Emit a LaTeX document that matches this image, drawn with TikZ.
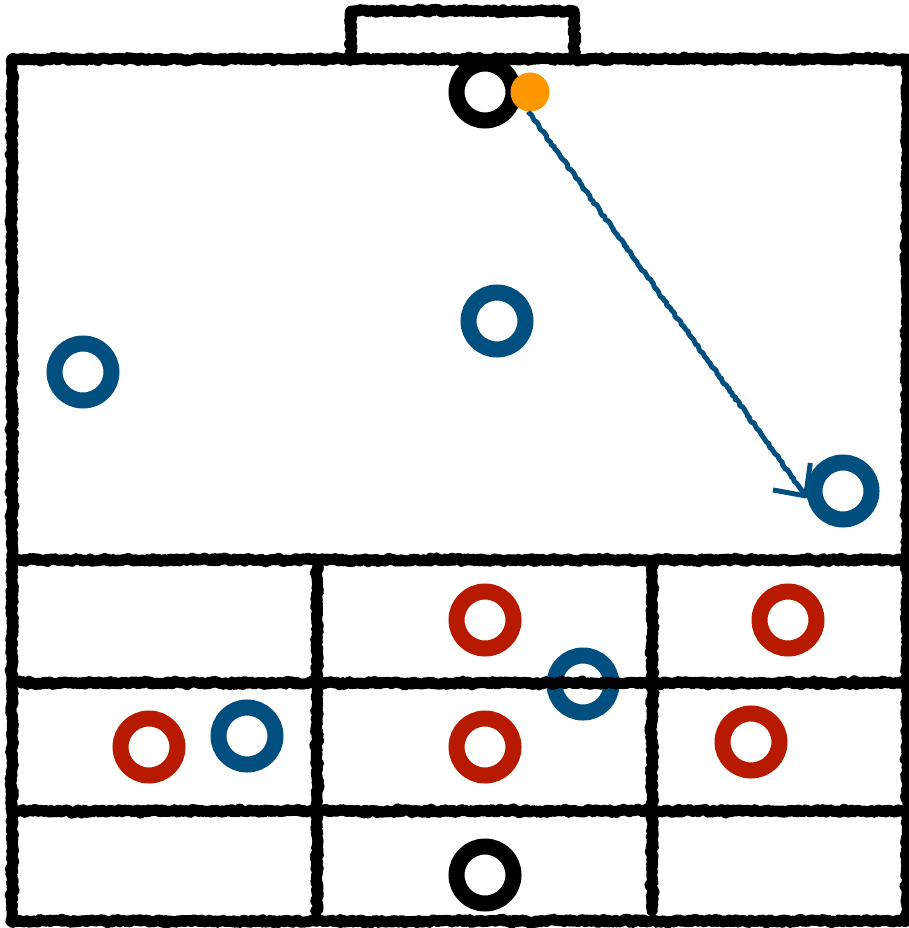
\documentclass[tikz,border=0pt]{standalone}
\usetikzlibrary{decorations.pathmorphing,arrows.meta}
\definecolor{teamblue}{RGB}{0,79,127}
\definecolor{teamred}{RGB}{184,26,0}
\definecolor{ballorange}{RGB}{255,152,0}

\begin{document}
\begin{tikzpicture}[x=1pt,y=-1pt,
  chalk/.style={line width=9.5, line join=round, line cap=round, decorate,
    decoration={random steps, segment length=3pt, amplitude=1pt},
    preaction={draw, line width=11, line join=round, line cap=round, decorate,
      decoration={random steps, segment length=1.5pt, amplitude=1.5pt}}},
  ring/.style={circle, draw=#1, line width=16, minimum size=57, inner sep=0pt},
  ball/.style={circle, fill=ballorange, minimum size=39, inner sep=0pt},
  runline/.style={draw=teamblue, line width=5, line join=round,
    -{Straight Barb[length=24pt,width=46pt,line join=round]},
    decorate, decoration={random steps, segment length=2.5pt, amplitude=1pt, post length=18pt}}]
\pgfmathsetseed{11}
\useasboundingbox (0,0) rectangle (909,928);

% Players
\node [ring=black] (k1) at (485,92) {};
\node [ring=black] (k2) at (485,875) {};
\node [ring=teamblue] (b1) at (83,372) {};
\node [ring=teamblue] (b2) at (497,321) {};
\node [ring=teamblue] (b3) at (843,491) {};
\node [ring=teamblue] (b4) at (247,736) {};
\node [ring=teamblue] (b5) at (583,684) {};
\node [ring=teamred] (r1) at (485,620) {};
\node [ring=teamred] (r2) at (788,620) {};
\node [ring=teamred] (r3) at (149,747) {};
\node [ring=teamred] (r4) at (485,747) {};
\node [ring=teamred] (r5) at (751,742) {};

% Pitch lines
\draw [chalk] (12,59) rectangle (907,921);
\draw [chalk] (351,59) -- (351,11) -- (574,11) -- (574,59);
\draw [chalk] (12,560) -- (907,560);
\draw [chalk] (12,683) -- (907,683);
\draw [chalk] (12,811) -- (907,811);
\draw [chalk] (317,560) -- (317,911);
\draw [chalk] (652,560) -- (652,911);

% Ball and run
\node [ball] (o1) at (530,92) {};
\draw [runline] (o1.265) -- (b3.191);

\end{tikzpicture}
\end{document}
